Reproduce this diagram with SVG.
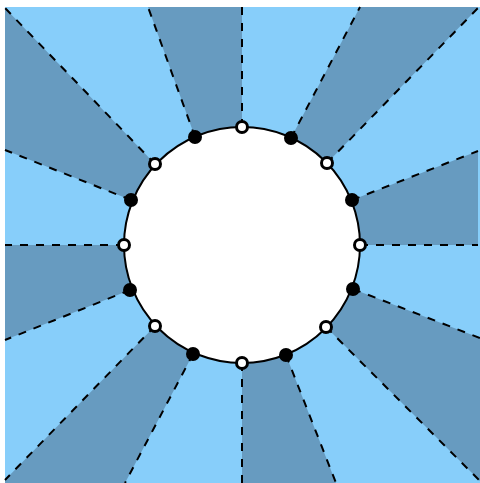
<svg xmlns="http://www.w3.org/2000/svg" width="480" height="483" viewBox="0 0 480 483">
<style>
.dark{fill:#679BC0;stroke:none}
.ray{stroke:#000;stroke-width:2;stroke-dasharray:8,8;fill:none}
.wd{fill:#fff;stroke:#000;stroke-width:3}
.bd{fill:#000;stroke:#000;stroke-width:3}
</style>
<rect x="5" y="7" width="475" height="476" fill="#87CEFA"/>
<g id="sectors">
<polygon class="dark" points="242,127 242,7 148,7 195,137"/>
<polygon class="dark" points="155,164 5,8 5,150 131,200"/>
<polygon class="dark" points="124,245 5,245 5,340 130,290"/>
<polygon class="dark" points="155,326 5,480 5,483 125,483 193,354"/>
<polygon class="dark" points="242,363 242,483 336,483 286,355"/>
<polygon class="dark" points="326,327 480,481 480,338 353,289"/>
<polygon class="dark" points="360,245 478,245 478,151 352,200"/>
<polygon class="dark" points="327,163 478,8 478,7 360,7 291,138"/>
</g>
<g id="connectors">
<line class="ray" x1="242" y1="127" x2="242" y2="7"/>
<line class="ray" x1="291" y1="138" x2="360" y2="7"/>
<line class="ray" x1="327" y1="163" x2="478" y2="8"/>
<line class="ray" x1="352" y1="200" x2="478" y2="151"/>
<line class="ray" x1="360" y1="245" x2="478" y2="245"/>
<line class="ray" x1="353" y1="289" x2="480" y2="338"/>
<line class="ray" x1="326" y1="327" x2="480" y2="481"/>
<line class="ray" x1="286" y1="355" x2="336" y2="483"/>
<line class="ray" x1="242" y1="363" x2="242" y2="483"/>
<line class="ray" x1="193" y1="354" x2="125" y2="483"/>
<line class="ray" x1="155" y1="326" x2="5" y2="480"/>
<line class="ray" x1="130" y1="290" x2="5" y2="340"/>
<line class="ray" x1="124" y1="245" x2="5" y2="245"/>
<line class="ray" x1="131" y1="200" x2="5" y2="150"/>
<line class="ray" x1="155" y1="164" x2="5" y2="8"/>
<line class="ray" x1="195" y1="137" x2="148" y2="7"/>
</g>
<g id="disk"><circle cx="242" cy="245" r="118" fill="#fff" stroke="#000" stroke-width="2"/></g>
<g id="w0"><circle class="wd" cx="360" cy="245" r="5.5"/></g>
<g id="w1"><circle class="wd" cx="327" cy="163" r="5.5"/></g>
<g id="w2"><circle class="wd" cx="242" cy="127" r="5.5"/></g>
<g id="w3"><circle class="wd" cx="155" cy="164" r="5.5"/></g>
<g id="w4"><circle class="wd" cx="124" cy="245" r="5.5"/></g>
<g id="w5"><circle class="wd" cx="155" cy="326" r="5.5"/></g>
<g id="w6"><circle class="wd" cx="242" cy="363" r="5.5"/></g>
<g id="w7"><circle class="wd" cx="326" cy="327" r="5.5"/></g>
<g id="b0"><circle class="bd" cx="352" cy="200" r="5.5"/></g>
<g id="b1"><circle class="bd" cx="291" cy="138" r="5.5"/></g>
<g id="b2"><circle class="bd" cx="195" cy="137" r="5.5"/></g>
<g id="b3"><circle class="bd" cx="131" cy="200" r="5.5"/></g>
<g id="b4"><circle class="bd" cx="130" cy="290" r="5.5"/></g>
<g id="b5"><circle class="bd" cx="193" cy="354" r="5.5"/></g>
<g id="b6"><circle class="bd" cx="286" cy="355" r="5.5"/></g>
<g id="b7"><circle class="bd" cx="353" cy="289" r="5.5"/></g>
</svg>
